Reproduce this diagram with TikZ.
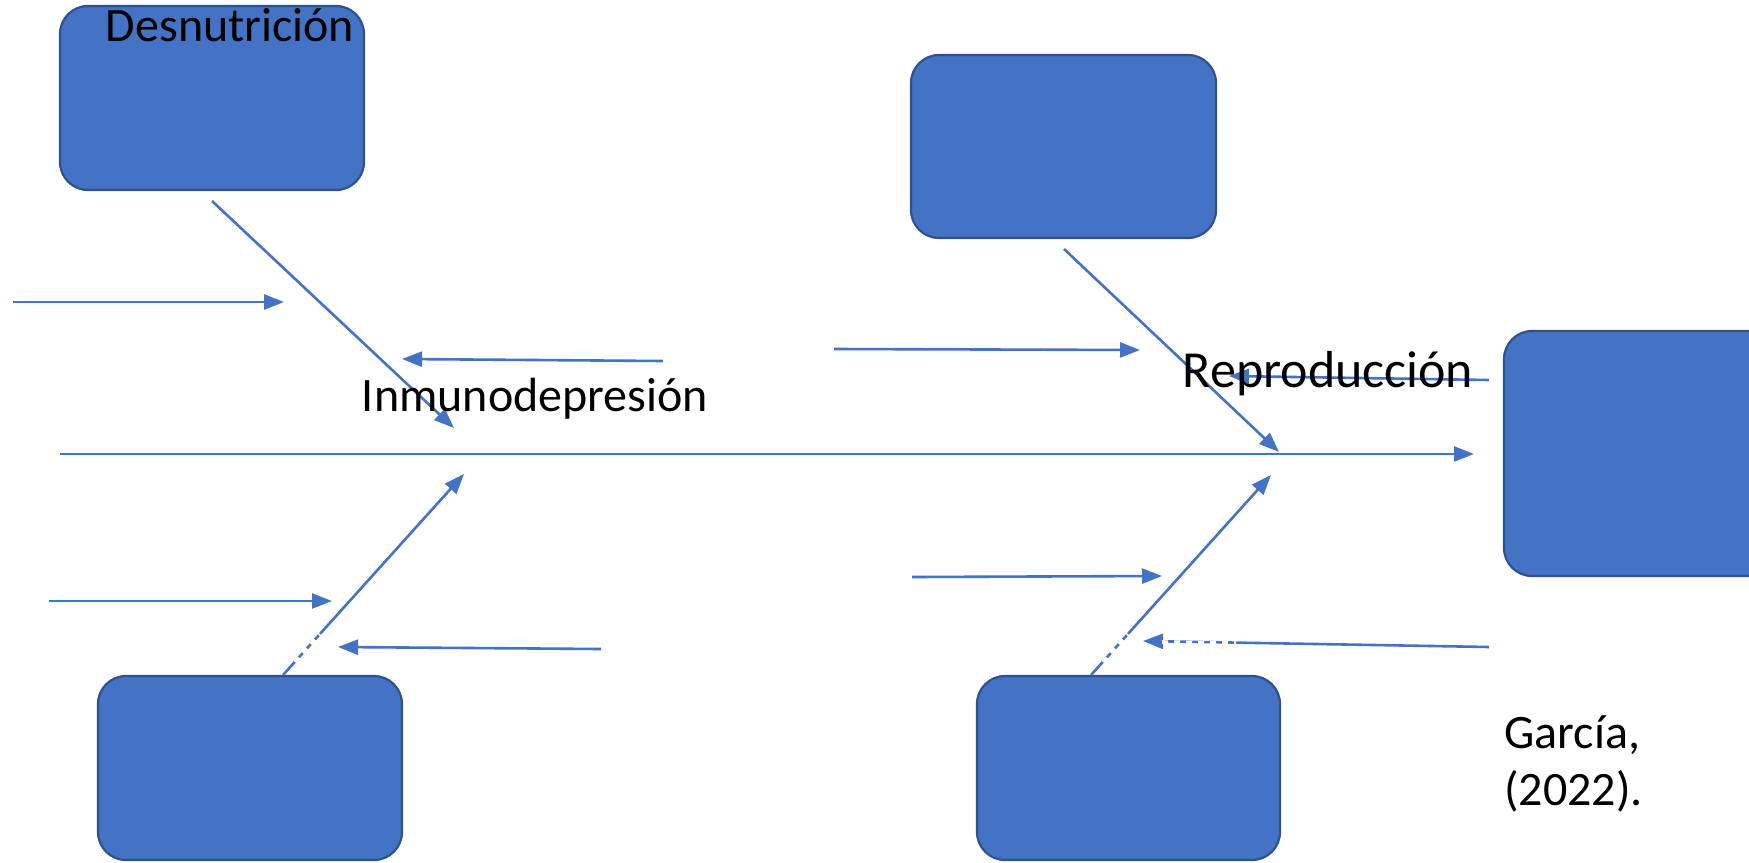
\documentclass[tikz,border=0pt]{standalone}
\usepackage{fontspec}
\setmainfont{Carlito}
\usetikzlibrary{arrows.meta}
\definecolor{ofblue}{HTML}{4472C4}
\definecolor{ofedge}{HTML}{2F528F}
\tikzset{
  bluebox/.style={draw=ofedge, line width=1.1pt, fill=ofblue, rounded corners=14pt},
  conn/.style={draw=ofblue, line width=1.3pt, -{Triangle[length=10pt,width=7.5pt]}},
  eraser/.style={draw=white, line width=1.8pt, dash pattern=on 3pt off 3pt},
  lbl/.style={font=\fontsize{24}{29}\selectfont, text=black, inner sep=0pt}
}
\begin{document}
\begin{tikzpicture}[x=0.5pt,y=-0.5pt]
\useasboundingbox (0,0) rectangle (1749,862);
\clip (0,0) rectangle (1749,862);
% boxes
\draw[bluebox] (60,6) rectangle (364,190);
\draw[bluebox] (911,55) rectangle (1216,238);
\draw[bluebox] (1504,331) rectangle (1800,576);
\draw[bluebox] (98,676) rectangle (402,860);
\draw[bluebox] (977,676) rectangle (1280,860);
% coordinates
\coordinate (s0) at (60,454);   \coordinate (s1) at (1474,454);
\coordinate (a0) at (212,201);  \coordinate (a1) at (454,428);
\coordinate (b0) at (663,361);  \coordinate (b1) at (402,359);
\coordinate (c0) at (13,302);   \coordinate (c1) at (284,302);
\coordinate (d0) at (283,675);  \coordinate (d1) at (464,474);
\coordinate (e0) at (49,601);   \coordinate (e1) at (332,601);
\coordinate (f0) at (601,649);  \coordinate (f1) at (338,647);
\coordinate (g0) at (1064,249); \coordinate (g1) at (1279,452);
\coordinate (h0) at (834,349);  \coordinate (h1) at (1140,350);
\coordinate (i0) at (1489,380); \coordinate (i1) at (1229,376);
\coordinate (j0) at (1091,675); \coordinate (j1) at (1271,475);
\coordinate (k0) at (912,577);  \coordinate (k1) at (1162,576);
\coordinate (l0) at (1489,647); \coordinate (l1) at (1143,641);
% connectors
\draw[conn] (s0) -- (s1);
\draw[conn] (a0) -- (a1);
\draw[conn] (b0) -- (b1);
\draw[conn] (c0) -- (c1);
\draw[conn] (d0) -- (d1);
\draw[conn] (e0) -- (e1);
\draw[conn] (f0) -- (f1);
\draw[conn] (g0) -- (g1);
\draw[conn] (h0) -- (h1);
\draw[conn] (i0) -- (i1);
\draw[conn] (j0) -- (j1);
\draw[conn] (k0) -- (k1);
\draw[conn] (l0) -- (l1);
% rendering gaps seen in the reference
\coordinate (w1) at (295,662); \coordinate (w2) at (320,634);
\draw[eraser] (w1) -- (w2);
\coordinate (w3) at (1103,662); \coordinate (w4) at (1128,634);
\draw[eraser] (w3) -- (w4);
\coordinate (w5) at (1162,642); \coordinate (w6) at (1236,643);
\draw[eraser] (w5) -- (w6);
% labels
\node[lbl] (desn) at (230,25) {Desnutrición};
\node[lbl] (inmu) at (535,399) {Inmunodepresión};
\node[lbl, font=\fontsize{26}{31}\selectfont] (repr) at (1328,374) {Reproducción};
\node[lbl, anchor=west, align=left, font=\fontsize{24}{28.5}\selectfont] (garc) at (1504,764) {García,\\(2022).};
\end{tikzpicture}
\end{document}
